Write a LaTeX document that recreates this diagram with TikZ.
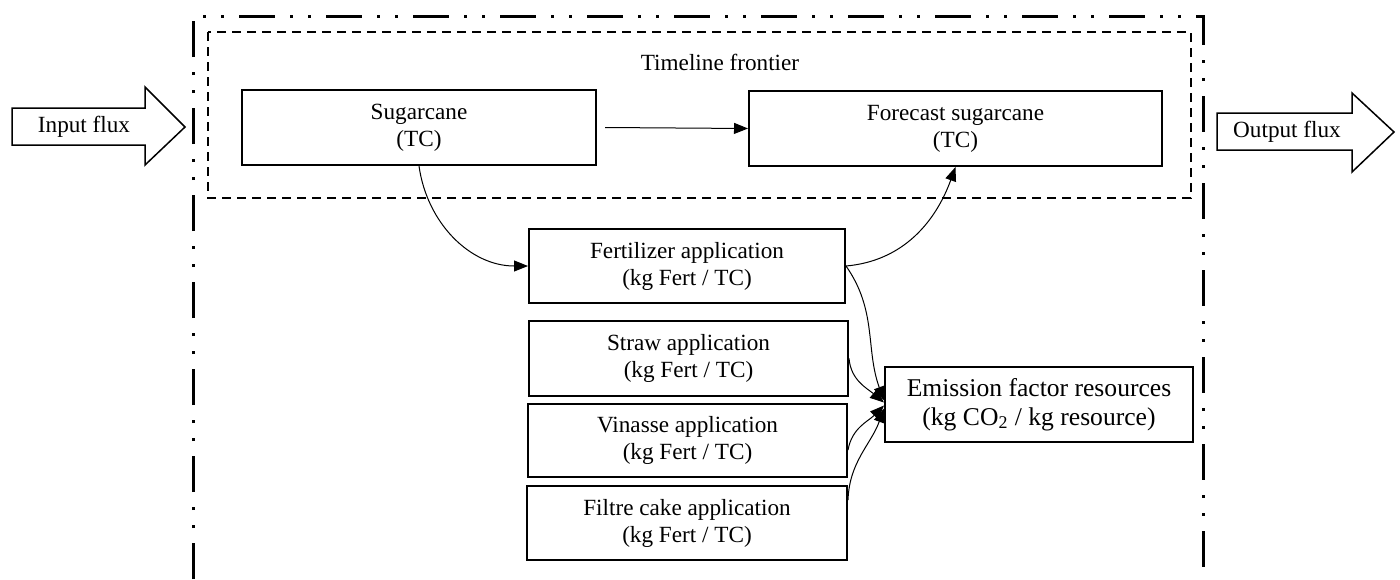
\documentclass[tikz,border=0pt]{standalone}
\usepackage{fontspec}
\setmainfont{Liberation Serif}
\usetikzlibrary{arrows.meta,calc}
\begin{document}
\begin{tikzpicture}[x=0.5pt,y=-0.5pt,
  box/.style={draw,line width=1pt,rectangle,align=center,inner sep=0pt,
    font=\fontsize{11.6}{13.5}\selectfont},
  bigbox/.style={box,font=\fontsize{12.8}{14.6}\selectfont},
  conn/.style={line width=0.5pt,-{Triangle[length=7pt,width=5.5pt]}},
  flux/.style={draw,line width=0.75pt,fill=white},
  lbl/.style={inner sep=0pt,font=\fontsize{11.6}{13.5}\selectfont},
  outerframe/.style={line width=1.5pt,
    dash pattern=on 18pt off 7.5pt on 1.5pt off 7.5pt on 1.5pt off 7.5pt},
  innerframe/.style={line width=1pt,dash pattern=on 4.5pt off 3pt}]
\useasboundingbox (0,0) rectangle (1400,579);

% frames
\draw[outerframe] (193,579) -- (193,16) -- (1203,16) -- (1203,579);
\draw[innerframe] (208,32) rectangle (1191,198);
\node[lbl] (tl) at (720,62) {Timeline frontier};

% flux arrows
\draw[flux] (12,108) -- (145,108) -- (145,87) -- (185,127) -- (145,165)
  -- (145,145) -- (12,145) -- cycle;
\node[lbl] (influx) at (84,127) {Input flux};
\draw[flux] (1217,113) -- (1352,113) -- (1352,93) -- (1394,132) -- (1352,172)
  -- (1352,150) -- (1217,150) -- cycle;
\node[lbl] (outflux) at (1287,132) {Output flux};

% boxes
\node[box,minimum width=177pt,minimum height=37.5pt] (sug) at (419,127.5)
  {Sugarcane\\(TC)};
\node[box,minimum width=206.5pt,minimum height=37.5pt] (fore) at (955.5,128.5)
  {Forecast sugarcane\\(TC)};
\node[box,minimum width=158pt,minimum height=37pt] (fert) at (687,266)
  {Fertilizer application\\(kg Fert / TC)};
\node[box,minimum width=159.5pt,minimum height=37.5pt] (straw) at (688.5,358.5)
  {Straw application\\(kg Fert / TC)};
\node[box,minimum width=159.5pt,minimum height=36.5pt] (vin) at (687.5,440.5)
  {Vinasse application\\(kg Fert / TC)};
\node[box,minimum width=160pt,minimum height=37pt] (filt) at (687,523)
  {Filtre cake application\\(kg Fert / TC)};
\node[bigbox,minimum width=154pt,minimum height=37.5pt] (emis) at (1039,404.5)
  {Emission factor resources\\(kg CO\textsubscript{2} / kg resource)};

% connectors
\draw[conn] ([xshift=4pt]sug.east) -- (fore.west);
\draw[conn] (sug.south) to[out=-82,in=180] (fert.west);
\draw[conn] (fert.east) to[out=5,in=-110] (fore.south);
\draw[conn] (fert.east) to[out=-55,in=110] ([yshift=2pt]emis.west);
\draw[conn] (straw.east) to[out=-85,in=140] ([yshift=1pt]emis.west);
\draw[conn] ([yshift=-4.75pt]vin.east) to[out=80,in=-135] ([yshift=-0.5pt]emis.west);
\draw[conn] ([yshift=11.5pt]filt.east) to[out=88,in=-110] ([yshift=-2pt]emis.west);
\end{tikzpicture}
\end{document}
